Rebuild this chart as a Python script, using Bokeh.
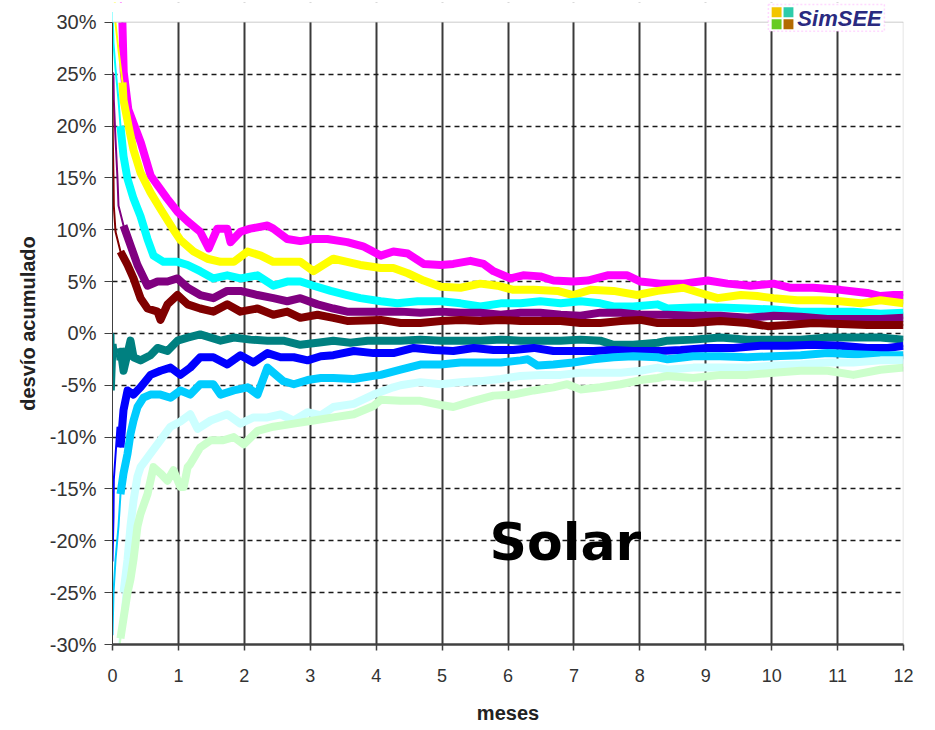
from bokeh.plotting import figure
from bokeh.models import FixedTicker, PrintfTickFormatter, Label, BoxAnnotation, Range1d
from bokeh.embed import file_html
from bokeh.resources import INLINE

# ---------------- data (months, % accumulated deviation) ----------------
x_ticks = [0, 1, 2, 3, 4, 5, 6, 7, 8, 9, 10, 11, 12]
y_ticks = [-30, -25, -20, -15, -10, -5, 0, 5, 10, 15, 20, 25, 30]

magenta_x = [0.08, 0.15, 0.17, 0.24, 0.43, 0.58, 0.83, 0.99, 1.14, 1.33, 1.46, 1.59, 1.74, 1.79, 1.94,
             2.09, 2.35, 2.44, 2.65, 2.85, 3.05, 3.26, 3.56, 3.8, 4.07, 4.26, 4.48, 4.72, 4.98, 5.17,
             5.43, 5.63, 5.78, 6.04, 6.23, 6.49, 6.69, 6.99, 7.21, 7.51, 7.81, 8.01, 8.31, 8.66, 9.03,
             9.33, 9.68, 10.03, 10.29, 10.63, 11.04, 11.45, 11.65, 11.85, 12.0]
magenta_y = [36, 30, 25.2, 21.6, 18.4, 15.2, 13, 11.7, 10.8, 9.8, 8.2, 10.1, 10.1, 8.8, 9.8,
             10.1, 10.4, 10.1, 9.1, 8.9, 9.1, 9.1, 8.8, 8.4, 7.5, 7.9, 7.7, 6.7, 6.6, 6.7,
             7.0, 6.7, 6.0, 5.3, 5.6, 5.5, 5.1, 5.0, 5.1, 5.6, 5.6, 5.0, 4.8, 4.8, 5.1,
             4.8, 4.6, 4.8, 4.4, 4.4, 4.2, 3.9, 3.6, 3.7, 3.7]

yellow_x = [0.015, 0.046, 0.091, 0.152, 0.167, 0.243, 0.319, 0.425, 0.576, 0.728, 0.925, 1.03, 1.23,
            1.44, 1.64, 1.84, 2.05, 2.25, 2.44, 2.65, 2.85, 3.05, 3.20, 3.35, 3.56, 3.76, 4.07, 4.26,
            4.48, 4.72, 4.98, 5.28, 5.58, 5.84, 6.08, 6.39, 6.75, 6.99, 7.25, 7.60, 7.96, 8.27, 8.66,
            8.92, 9.18, 9.53, 9.78, 10.03, 10.39, 10.74, 11.04, 11.35, 11.65, 12.0]
yellow_y = [36, 29.9, 27.3, 24.2, 22.5, 20, 17.7, 15.5, 13.6, 12, 10.0, 9.0, 7.9,
            7.2, 6.9, 6.9, 7.9, 7.5, 6.9, 6.9, 6.9, 6.0, 6.6, 7.2, 6.9, 6.6, 6.3, 6.3,
            5.8, 5.1, 4.5, 4.4, 4.8, 4.6, 4.2, 4.2, 4.1, 3.7, 4.2, 4.1, 3.7, 4.1, 4.4,
            3.9, 3.4, 3.7, 3.6, 3.4, 3.2, 3.2, 3.1, 2.9, 3.2, 2.9]

cyan_x = [0.0, 0.015, 0.046, 0.091, 0.121, 0.167, 0.228, 0.319, 0.425, 0.531, 0.622, 0.774, 0.986,
          1.14, 1.33, 1.53, 1.74, 1.94, 2.20, 2.44, 2.65, 2.85, 3.05, 3.31, 3.56, 3.76, 4.07, 4.32,
          4.63, 4.98, 5.28, 5.58, 5.89, 6.19, 6.49, 6.80, 7.10, 7.40, 7.60, 7.90, 8.27, 8.42, 8.81,
          9.22, 9.63, 10.03, 10.44, 10.85, 11.24, 11.65, 12.0]
cyan_y = [31, 28, 25.5, 22.5, 20, 17.1, 14.9, 13, 11.3, 9.1, 7.5, 6.9, 6.9,
          6.6, 6.0, 5.3, 5.6, 5.3, 5.6, 4.6, 5.0, 5.0, 4.6, 4.1, 3.7, 3.4, 3.1, 2.9,
          3.1, 3.1, 2.9, 2.6, 2.9, 2.9, 3.1, 2.9, 3.1, 2.9, 2.6, 2.6, 2.8, 2.4, 2.5,
          2.5, 2.4, 2.3, 2.1, 2.1, 2.1, 1.9, 2.0]

purple_x = [0.0, 0.015, 0.02, 0.046, 0.076, 0.091, 0.167, 0.273, 0.379, 0.531, 0.683, 0.834, 0.986,
            1.14, 1.33, 1.53, 1.74, 1.94, 2.20, 2.44, 2.65, 2.85, 3.11, 3.35, 3.56, 4.07, 4.37,
            4.67, 4.98, 5.28, 5.58, 5.89, 6.19, 6.49, 6.80, 7.10, 7.40, 7.71, 8.01, 8.42, 8.81,
            9.22, 9.63, 10.03, 10.44, 10.85, 11.24, 11.65, 12.0]
purple_y = [25.2, 24.7, 22.5, 18.7, 14.9, 12.3, 10.4, 8.5, 6.6, 4.6, 5.0, 5.0, 5.3,
            4.4, 3.7, 3.4, 4.1, 4.1, 3.7, 3.4, 3.1, 3.4, 2.8, 2.4, 2.1, 2.1, 2.1,
            2.0, 2.1, 2.0, 2.0, 1.8, 2.0, 2.0, 1.8, 1.7, 2.0, 2.0, 1.8, 1.8, 1.7,
            1.7, 1.5, 1.7, 1.6, 1.4, 1.4, 1.4, 1.5]

maroon_x = [0.0, 0.005, 0.015, 0.02, 0.046, 0.121, 0.228, 0.319, 0.425, 0.531, 0.683, 0.728, 0.834,
            0.986, 1.14, 1.33, 1.53, 1.74, 1.94, 2.20, 2.44, 2.65, 2.85, 3.11, 3.35, 3.56, 4.07,
            4.37, 4.67, 4.98, 5.28, 5.58, 5.89, 6.19, 6.49, 6.80, 7.10, 7.40, 7.71, 8.01, 8.27,
            8.42, 8.81, 9.22, 9.63, 9.94, 10.24, 10.63, 11.04, 11.45, 11.85, 12.0]
maroon_y = [22.5, 18.7, 14.9, 12.3, 9.8, 7.9, 6.6, 5.3, 3.4, 2.4, 2.1, 1.3, 2.8,
            3.7, 2.8, 2.4, 2.1, 2.8, 2.1, 2.4, 1.8, 2.1, 1.5, 1.8, 1.5, 1.2, 1.3,
            1.0, 1.0, 1.2, 1.3, 1.2, 1.3, 1.2, 1.2, 1.2, 1.0, 1.0, 1.2, 1.3, 1.0,
            1.0, 1.0, 1.2, 1.0, 0.7, 0.8, 1.0, 0.9, 0.8, 0.8, 0.8]

teal_x = [0.0, 0.015, 0.02, 0.046, 0.076, 0.121, 0.167, 0.273, 0.319, 0.425, 0.576, 0.683, 0.834,
          0.986, 1.14, 1.33, 1.64, 1.84, 2.09, 2.35, 2.59, 2.85, 3.11, 3.35, 3.61, 3.87, 4.17,
          4.37, 4.67, 4.98, 5.28, 5.58, 5.89, 6.19, 6.49, 6.80, 7.10, 7.40, 7.60, 7.90, 8.27,
          8.42, 8.81, 9.22, 9.63, 10.03, 10.44, 10.85, 11.24, 11.65, 12.0]
teal_y = [0.0, -0.1, -5.5, -1.0, -2.6, -1.4, -3.6, -0.7, -2.3, -2.6, -2.1, -1.4, -1.7,
          -0.7, -0.4, -0.1, -0.7, -0.4, -0.6, -0.7, -0.7, -1.1, -0.9, -0.7, -0.9, -0.7, -0.7,
          -0.7, -0.6, -0.7, -0.7, -0.7, -0.6, -0.7, -0.7, -0.7, -0.6, -0.7, -1.1, -1.1, -0.9,
          -0.7, -0.6, -0.4, -0.6, -0.6, -0.6, -0.4, -0.4, -0.4, -0.6]

blue_x = [0.0, 0.015, 0.02, 0.076, 0.121, 0.167, 0.228, 0.319, 0.425, 0.576, 0.728, 0.88, 1.03,
          1.18, 1.33, 1.53, 1.74, 1.94, 2.14, 2.35, 2.55, 2.75, 2.96, 3.16, 3.35, 3.66, 3.96,
          4.26, 4.57, 4.87, 5.17, 5.48, 5.78, 6.08, 6.39, 6.69, 6.99, 7.30, 7.60, 7.90, 8.31,
          8.62, 9.03, 9.42, 9.83, 10.24, 10.63, 11.04, 11.45, 11.76, 12.0]
blue_y = [-22.0, -17.7, -14.1, -9.0, -11.0, -7.4, -5.5, -5.9, -5.2, -4.0, -3.6, -3.3, -4.0,
          -3.3, -2.3, -2.3, -3.0, -2.1, -2.8, -1.9, -2.3, -2.3, -2.6, -2.2, -2.1, -1.7, -1.9,
          -1.9, -1.4, -1.6, -1.7, -1.4, -1.6, -1.6, -1.4, -1.7, -1.7, -1.7, -1.6, -1.7, -1.7,
          -1.6, -1.4, -1.4, -1.2, -1.2, -1.1, -1.2, -1.4, -1.4, -1.2]

sky_x = [0.0, 0.015, 0.046, 0.091, 0.121, 0.167, 0.228, 0.273, 0.319, 0.379, 0.47, 0.576, 0.728,
         0.88, 1.03, 1.18, 1.33, 1.53, 1.64, 1.84, 2.05, 2.20, 2.35, 2.59, 2.75, 2.96, 3.16,
         3.35, 3.66, 3.96, 4.07, 4.37, 4.67, 4.98, 5.28, 5.58, 5.89, 6.19, 6.30, 6.45, 6.69,
         6.99, 7.30, 7.60, 7.90, 8.27, 8.42, 8.81, 9.22, 9.63, 10.03, 10.44, 10.85, 11.24, 11.65, 12.0]
sky_y = [-29.1, -25.0, -21.8, -18.6, -15.5, -13.5, -11.6, -9.7, -8.4, -7.1, -6.2, -5.9, -5.9,
         -6.2, -5.5, -5.9, -4.9, -4.9, -5.9, -5.5, -5.2, -5.9, -3.3, -4.6, -4.9, -4.5, -4.3,
         -4.3, -4.4, -4.1, -4.0, -3.5, -3.0, -3.0, -2.8, -2.8, -2.8, -2.6, -2.5, -3.1, -3.0,
         -2.8, -2.5, -2.3, -2.2, -2.3, -2.5, -2.2, -2.2, -2.3, -2.2, -2.1, -1.9, -2.0, -2.1, -2.1]

lcyan_x = [0.091, 0.167, 0.228, 0.273, 0.319, 0.379, 0.425, 0.576, 0.728, 0.88, 1.03, 1.18, 1.29,
           1.49, 1.74, 1.94, 2.14, 2.35, 2.55, 2.75, 2.96, 3.16, 3.35, 3.66, 3.96, 4.26, 4.37,
           4.67, 4.98, 5.28, 5.58, 5.89, 6.19, 6.49, 6.80, 7.10, 7.40, 7.71, 8.01, 8.27, 8.42,
           8.81, 9.22, 9.63, 10.03, 10.44, 10.85, 11.24, 11.65, 12.0]
lcyan_y = [-31, -25.0, -21.8, -18.6, -16.1, -13.8, -12.9, -11.6, -10.3, -9.0, -8.5, -7.8, -9.2,
           -8.4, -7.8, -8.7, -8.1, -8.1, -7.8, -8.4, -7.6, -7.9, -7.1, -6.8, -5.9, -5.2, -5.0,
           -4.7, -4.9, -4.7, -4.6, -4.4, -4.1, -4.0, -4.0, -3.8, -3.8, -3.8, -3.6, -3.3, -3.5,
           -3.3, -3.3, -3.3, -3.1, -3.0, -2.8, -2.8, -2.6, -2.6]

lgreen_x = [0.09, 0.121, 0.167, 0.228, 0.273, 0.319, 0.379, 0.425, 0.531, 0.622, 0.728, 0.834, 0.925,
            1.03, 1.08, 1.14, 1.18, 1.33, 1.49, 1.68, 1.84, 1.99, 2.20, 2.44, 2.75, 3.05, 3.35,
            3.66, 3.96, 4.07, 4.37, 4.67, 4.98, 5.17, 5.48, 5.78, 6.08, 6.39, 6.69, 6.90, 7.10,
            7.40, 7.71, 8.01, 8.27, 8.42, 8.81, 9.22, 9.63, 10.03, 10.44, 10.85, 11.24, 11.65, 12.0]
lgreen_y = [-31, -29.4, -27.5, -25.0, -23.7, -21.8, -18.6, -17.4, -15.5, -12.9, -13.5, -14.2, -13.2,
            -14.8, -14.8, -12.9, -12.6, -11.0, -10.3, -10.3, -10.0, -10.7, -9.4, -9.0, -8.7, -8.4, -8.1,
            -7.8, -7.0, -6.4, -6.5, -6.5, -6.9, -7.1, -6.5, -6.0, -5.9, -5.5, -5.2, -4.9, -5.4,
            -5.2, -4.9, -4.5, -4.3, -4.1, -4.3, -4.0, -4.0, -3.8, -3.6, -3.6, -4.0, -3.5, -3.3]

series = [
    (magenta_x, magenta_y, "#FF00FF"),
    (yellow_x, yellow_y, "#FFFF00"),
    (cyan_x, cyan_y, "#00FFFF"),
    (purple_x, purple_y, "#800080"),
    (maroon_x, maroon_y, "#800000"),
    (teal_x, teal_y, "#008080"),
    (blue_x, blue_y, "#0000FF"),
    (sky_x, sky_y, "#00CCFF"),
    (lcyan_x, lcyan_y, "#CCFFFF"),
    (lgreen_x, lgreen_y, "#CCFFCC"),
]

Y_TOP = 31.91  # frame extends a little above 30% to host the logo

# ---------------- figure ----------------
p = figure(width=919, height=726, output_backend="svg", toolbar_location=None,
           x_range=Range1d(0, 12), y_range=Range1d(-30, Y_TOP),
           min_border_left=112, min_border_right=16, min_border_top=2, min_border_bottom=77)
p.background_fill_color = "white"
p.border_fill_color = "white"
p.outline_line_color = None

# grids
p.xgrid.ticker = FixedTicker(ticks=x_ticks[1:-1])
p.xgrid.grid_line_color = "#3a3a3a"
p.xgrid.grid_line_width = 2
p.ygrid.ticker = FixedTicker(ticks=y_ticks[1:-1])
p.ygrid.grid_line_color = "#1a1a1a"
p.ygrid.grid_line_width = 1.3
p.ygrid.grid_line_dash = "5 4"

# axes
p.xaxis.ticker = FixedTicker(ticks=x_ticks)
p.yaxis.ticker = FixedTicker(ticks=y_ticks)
p.yaxis.bounds = (y_ticks[0], y_ticks[-1])
p.yaxis.formatter = PrintfTickFormatter(format="%d%%")
for ax in (p.xaxis, p.yaxis):
    ax.minor_tick_line_color = None
    ax.major_tick_in = 0
    ax.major_label_text_font = "Liberation Sans"
    ax.major_label_text_color = "#333333"
    ax.axis_label_text_font = "Liberation Sans"
    ax.axis_label_text_font_style = "bold"
    ax.axis_label_text_font_size = "20px"
    ax.axis_label_text_color = "#222222"
p.xaxis.axis_label = "meses"
p.yaxis.axis_label = "desvío acumulado"
p.xaxis.major_label_text_font_size = "18px"
p.yaxis.major_label_text_font_size = "20px"
p.xaxis.axis_line_color = "#404040"
p.xaxis.axis_line_width = 2.5
p.xaxis.major_tick_out = 6
p.xaxis.major_tick_line_color = "#404040"
p.xaxis.major_tick_line_width = 1.5
p.xaxis.major_label_standoff = 18
p.xaxis.axis_label_standoff = 17
p.yaxis.axis_line_color = "#404040"
p.yaxis.axis_line_width = 1
p.yaxis.major_tick_out = 8
p.yaxis.major_tick_line_color = "#404040"
p.yaxis.major_label_standoff = 8
p.yaxis.axis_label_standoff = 8

# series
for xs, ys, col in series:
    p.line(xs, ys, line_width=2, line_color=col)
    start = next(i for i, v in enumerate(xs) if v >= 0.1)
    p.line(xs[start:], ys[start:], line_width=8, line_color=col, line_join="round")

# white band above 30% (plot area ends at 30%)
p.add_layout(BoxAnnotation(bottom=30, fill_color="white", fill_alpha=1.0, line_color=None))
# gray top and right borders of the plot area
p.add_layout(BoxAnnotation(left=0, right=12, bottom=30, top=30, fill_alpha=0,
                           line_color="#8c8c8c", line_width=1.5))
p.add_layout(BoxAnnotation(left=12, right=12, bottom=-30, top=30, fill_alpha=0,
                           line_color="#8c8c8c", line_width=1.5))

# "Solar" label
p.add_layout(Label(x=6.87, y=-20.1, text="Solar", text_align="center", text_baseline="alphabetic",
                   text_font="DejaVu Sans", text_font_style="bold", text_font_size="52px",
                   text_color="black"))

# SimSEE logo
p.add_layout(BoxAnnotation(left=9.95, right=11.71, bottom=29.14, top=31.72,
                           fill_color="white", fill_alpha=1.0,
                           line_color="#FF80FF", line_width=1.5, line_dash="2 2"))
p.add_layout(BoxAnnotation(left=10.0, right=10.15, bottom=30.48, top=31.44,
                           fill_color="#F2C500", fill_alpha=1.0, line_color=None))
p.add_layout(BoxAnnotation(left=10.18, right=10.33, bottom=30.48, top=31.44,
                           fill_color="#2DCCAA", fill_alpha=1.0, line_color=None))
p.add_layout(BoxAnnotation(left=10.0, right=10.15, bottom=29.33, top=30.29,
                           fill_color="#66CC22", fill_alpha=1.0, line_color=None))
p.add_layout(BoxAnnotation(left=10.18, right=10.33, bottom=29.33, top=30.29,
                           fill_color="#B36B00", fill_alpha=1.0, line_color=None))
p.add_layout(Label(x=10.39, y=30.38, text="SimSEE", text_baseline="middle",
                   text_font="Liberation Sans", text_font_style="bold italic",
                   text_font_size="22px", text_color="#2A2A80"))

open("out.html", "w").write(file_html(p, INLINE))
